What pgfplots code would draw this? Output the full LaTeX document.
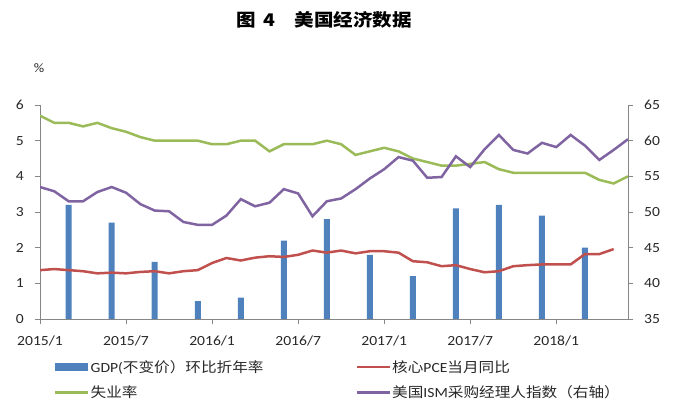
\documentclass[border=0pt]{standalone}
\usepackage{pgfplots}
\usepackage{pgfplotstable}
\pgfplotsset{compat=1.18}
\usepackage{fontspec}
\setmainfont{Carlito}[FakeStretch=1.12]
\newfontfamily\cjk{Noto Sans CJK SC}[FakeStretch=1.12]

\definecolor{gdpblue}{RGB}{79,129,189}
\definecolor{pcered}{RGB}{192,80,77}
\definecolor{unempgreen}{RGB}{155,187,89}
\definecolor{ismpurple}{RGB}{128,100,162}
\definecolor{axisgray}{RGB}{134,134,134}
\definecolor{labelcol}{RGB}{40,40,40}

% GDP (quarterly, annualised q/q), plotted at middle month of quarter; month index 0 = 2015/1
\pgfplotstableread{
x y
2 3.2
5 2.7
8 1.6
11 0.5
14 0.6
17 2.2
20 2.8
23 1.8
26 1.2
29 3.1
32 3.2
35 2.9
38 2.0
}\gdp

% Core PCE y/y
\pgfplotstableread{
x y
0 1.37
1 1.40
2 1.37
3 1.34
4 1.28
5 1.30
6 1.28
7 1.32
8 1.34
9 1.28
10 1.34
11 1.37
12 1.57
13 1.71
14 1.64
15 1.72
16 1.76
17 1.74
18 1.80
19 1.92
20 1.86
21 1.92
22 1.84
23 1.90
24 1.90
25 1.86
26 1.62
27 1.59
28 1.48
29 1.51
30 1.40
31 1.31
32 1.34
33 1.48
34 1.51
35 1.53
36 1.53
37 1.53
38 1.82
39 1.82
40 1.96
}\pce

% Unemployment rate
\pgfplotstableread{
x y
0 5.7
1 5.5
2 5.5
3 5.4
4 5.5
5 5.35
6 5.25
7 5.1
8 5.0
9 5.0
10 5.0
11 5.0
12 4.9
13 4.9
14 5.0
15 5.0
16 4.7
17 4.9
18 4.9
19 4.9
20 5.0
21 4.9
22 4.6
23 4.7
24 4.8
25 4.7
26 4.5
27 4.4
28 4.3
29 4.3
30 4.35
31 4.4
32 4.2
33 4.1
34 4.1
35 4.1
36 4.1
37 4.1
38 4.1
39 3.9
40 3.8
41 4.0
}\unemp

% ISM manufacturing PMI (right axis)
\pgfplotstableread{
x y
0 53.5
1 52.9
2 51.5
3 51.5
4 52.8
5 53.5
6 52.7
7 51.1
8 50.2
9 50.1
10 48.6
11 48.2
12 48.2
13 49.5
14 51.8
15 50.8
16 51.3
17 53.2
18 52.6
19 49.4
20 51.5
21 51.9
22 53.2
23 54.7
24 56.0
25 57.7
26 57.2
27 54.8
28 54.9
29 57.8
30 56.3
31 58.8
32 60.8
33 58.7
34 58.2
35 59.7
36 59.1
37 60.8
38 59.3
39 57.3
40 58.7
41 60.2
}\ism

\pgfplotsset{
  common/.style={
    at={(40bp,95bp)}, anchor=south west,
    width=588bp, height=214bp, scale only axis,
    xmin=0, xmax=41,
    axis line style={draw=axisgray, line width=0.8bp},
    tick style={draw=axisgray, line width=0.8bp},
    tick align=outside, major tick length=5bp,
    /pgf/number format/assume math mode=true,
    tick label style={font=\fontsize{14}{14}\selectfont, text=labelcol},
  }
}

\begin{document}
\begin{tikzpicture}
\path[use as bounding box] (0,0) rectangle (700bp,414bp);

\begin{axis}[common,
  ymin=0, ymax=6,
  axis x line*=bottom, axis y line*=left,
  xtick={0,6,12,18,24,30,36},
  xticklabels={\mbox{2015/1},\mbox{2015/7},\mbox{2016/1},\mbox{2016/7},\mbox{2017/1},\mbox{2017/7},\mbox{2018/1}},
  ytick={0,1,2,3,4,5,6},
  yticklabel={\mbox{\pgfmathprintnumber{\tick}}},
  xticklabel style={anchor=north, inner sep=0pt, yshift=-12bp},
  yticklabel style={anchor=east, inner sep=0pt, xshift=-11bp},
  legend columns=2,
  legend cell align=left,
  legend style={at={(axis description cs:0,0)}, anchor=north west,
    xshift=14bp, yshift=-40bp, draw=none, fill=none, inner sep=0pt,
    row sep=10bp, font=\fontsize{14}{14}\selectfont, text=labelcol,
    nodes={inner sep=1bp}},
]
\addplot[ybar, bar width=6bp, bar shift=0pt, fill=gdpblue, draw=none,
  legend image code/.code={\fill[gdpblue] (0bp,-4bp) rectangle (33bp,4bp);}]
  table[x=x,y=y]{\gdp};
\addlegendentry{\makebox[264bp][l]{GDP({\cjk 不变价）环比折年率}}}
\addplot[pcered, line width=2.5bp, no markers,
  legend image code/.code={\draw[pcered, line width=2.5bp] (0bp,0bp) -- (33bp,0bp);}]
  table[x=x,y=y]{\pce};
\addlegendentry{{\cjk 核心}PCE{\cjk 当月同比}}
\addplot[unempgreen, line width=2.5bp, no markers,
  legend image code/.code={\draw[unempgreen, line width=2.5bp] (0bp,0bp) -- (33bp,0bp);}]
  table[x=x,y=y]{\unemp};
\addlegendentry{\makebox[264bp][l]{\cjk 失业率}}
\addlegendimage{legend image code/.code={\draw[ismpurple, line width=2.5bp] (0bp,0bp) -- (33bp,0bp);}}
\addlegendentry{{\cjk 美国}ISM{\cjk 采购经理人指数（右轴）}}
\end{axis}

\begin{axis}[common,
  ymin=35, ymax=65,
  axis x line=none, axis y line*=right,
  ytick={35,40,45,50,55,60,65},
  yticklabel={\mbox{\pgfmathprintnumber{\tick}}},
  yticklabel style={anchor=west, inner sep=0pt, xshift=11bp},
]
\addplot[ismpurple, line width=2.5bp, no markers] table[x=x,y=y]{\ism};
\end{axis}

\node[font=\cjk\bfseries\fontsize{17.5}{17.5}\selectfont, text=black] at (324bp,394bp) {图\hspace{8bp}4\hspace{19bp}美国经济数据};
\node[font=\fontsize{13}{13}\selectfont, text=labelcol] at (39bp,346bp) {\%};
\end{tikzpicture}
\end{document}
